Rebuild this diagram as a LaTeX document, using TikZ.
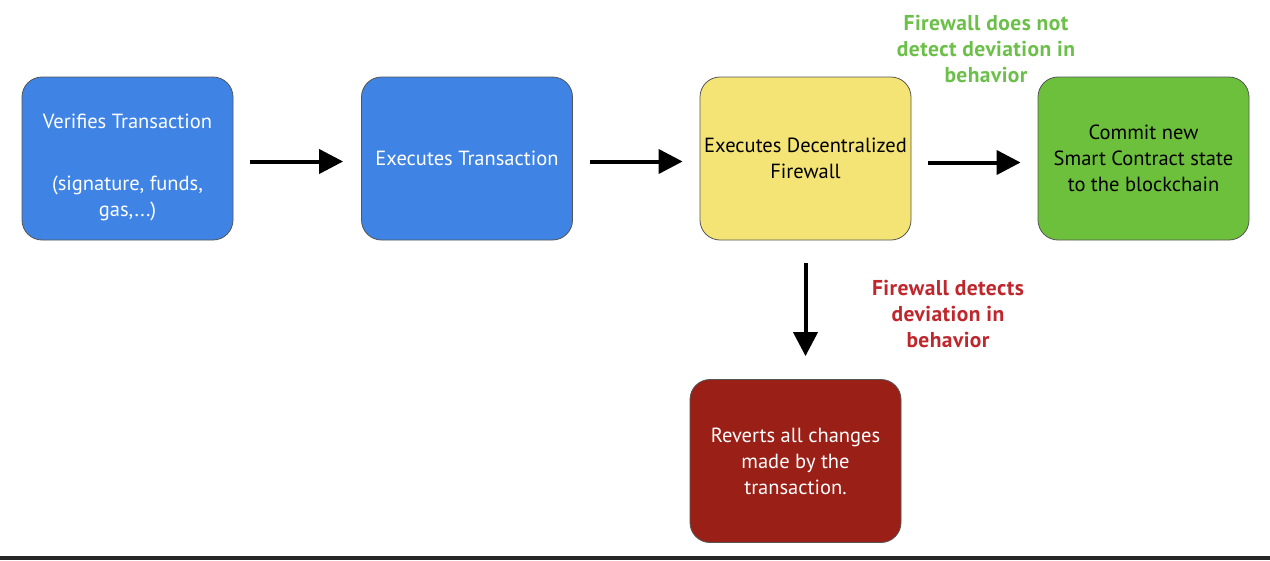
\documentclass[tikz,border=0pt]{standalone}
\usepackage{fontspec}
\setmainfont{PT Sans}
\usetikzlibrary{arrows.meta}
\definecolor{boxblue}{HTML}{3F84E4}
\definecolor{boxyellow}{HTML}{F4E475}
\definecolor{boxgreen}{HTML}{6CC03C}
\definecolor{boxred}{HTML}{9A1F16}
\definecolor{labgreen}{HTML}{6CC04A}
\definecolor{labred}{HTML}{BF272D}
\definecolor{edge}{HTML}{555555}
\tikzset{
  boxtext/.style={align=center, inner sep=0pt, font=\fontsize{20.5}{26}\selectfont},
  stagebox/.style={boxtext, draw=edge, line width=0.8pt, rounded corners=20pt,
    minimum width=211pt, minimum height=163pt},
  flowarrow/.style={line width=4pt, -{Triangle[length=24pt,width=24pt]}},
  note/.style={align=center, font=\bfseries\fontsize{21.5}{26}\selectfont\addfontfeatures{LetterSpace=2}},
}
\begin{document}
\begin{tikzpicture}[x=1pt,y=-1pt]
\useasboundingbox (0,0) rectangle (1270,560);
\fill[white] (0,0) rectangle (1270,560);
\fill[black!85] (0,556) rectangle (1270,560);
\node[stagebox, fill=boxblue] (verify) at (127.5,158.5) {};
\node[boxtext, text=white] (verifytext) at (127.5,167.5)
  {Verifies Transaction\\[36pt](signature, funds,\\gas,...)};
\node[stagebox, fill=boxblue, text=white] (exec) at (467,158.5)
  {Executes Transaction};
\node[stagebox, fill=boxyellow, text=black] (fw) at (805.5,158.5)
  {Executes Decentralized\\Firewall};
\node[stagebox, fill=boxgreen, text=black] (commit) at (1143.5,158.5)
  {Commit new\\Smart Contract state\\to the blockchain};
\node[stagebox, fill=boxred, text=white] (revert) at (795.5,461)
  {Reverts all changes\\made by the\\transaction.};
\node[note, text=labgreen] (oklab) at (986,49)
  {Firewall does not\\detect deviation in\\behavior};
\node[note, text=labred] (badlab) at (948,314)
  {Firewall detects\\deviation in\\behavior};
\draw[flowarrow, shorten <=17pt, shorten >=18pt] ([yshift=-3pt]verify.east) -- ([yshift=-3pt]exec.west);
\draw[flowarrow, shorten <=17pt, shorten >=17pt] ([yshift=-3pt]exec.east) -- ([yshift=-3pt]fw.west);
\draw[flowarrow, shorten <=17pt, shorten >=17pt] ([yshift=-4pt]fw.east) -- ([yshift=-4pt]commit.west);
\draw[flowarrow, shorten <=23pt, shorten >=23pt] (fw.south) -- (fw.south |- revert.north);
\end{tikzpicture}
\end{document}
